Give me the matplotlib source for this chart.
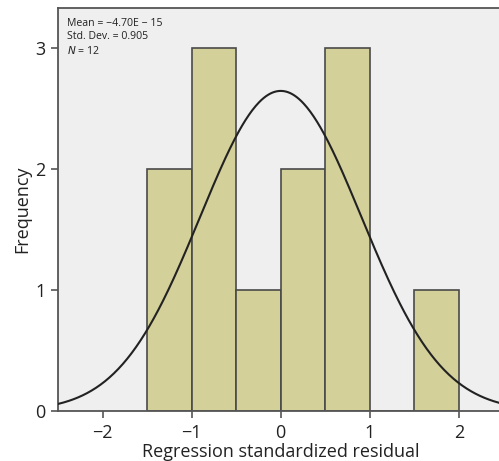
import numpy as np
import matplotlib
matplotlib.use("Agg")
import matplotlib.pyplot as plt

plt.rcParams['font.family'] = ['Open Sans', 'DejaVu Sans']

# histogram bins (regression standardized residual) and counts
bin_edges = [-1.5, -1.0, -0.5, 0.0, 0.5, 1.0, 1.5, 2.0]
counts = [2, 3, 1, 2, 3, 0, 1]

# stats shown in the corner box
mean_val = 0.0          # -4.70E-15
std_dev = 0.905
n_obs = 12

x_ticks = [-2, -1, 0, 1, 2]
y_ticks = [0, 1, 2, 3]

fig = plt.figure(figsize=(4.99, 4.61), dpi=100)
ax = fig.add_axes([58 / 499, 50 / 461, 5 * 89.1 / 499, 403 / 461])
ax.set_facecolor('#efefef')

lefts = np.array(bin_edges[:-1])
widths = np.diff(bin_edges)
ax.bar(lefts, counts, width=widths, align='edge', color='#d3d09a',
       edgecolor='#4a4a4a', linewidth=1.2, zorder=2)

# fitted normal curve scaled to counts
bw = widths[0]
xs = np.linspace(-2.5, 2.5, 400)
ys = n_obs * bw / (std_dev * np.sqrt(2 * np.pi)) * np.exp(-0.5 * ((xs - mean_val) / std_dev) ** 2)
ax.plot(xs, ys, color='#222222', linewidth=1.5, zorder=3)

ax.set_xlim(-2.5, 2.5)
ax.set_ylim(0, 3.33)
ax.set_xticks(x_ticks)
ax.set_xticklabels([str(t).replace('-', '\u2212') for t in x_ticks])
ax.set_yticks(y_ticks)
ax.tick_params(axis='both', labelsize=13, length=5, width=1.2, color='#555555',
               labelcolor='#222222', direction='out', pad=4)

for side in ['left', 'bottom', 'top', 'right']:
    ax.spines[side].set_color('#555555')
    ax.spines[side].set_linewidth(1.3)

ax.set_xlabel('Regression standardized residual', fontsize=13, color='#222222', labelpad=1)
ax.set_ylabel('Frequency', fontsize=13, color='#222222', labelpad=3)

ax.text(0.02, 0.975, 'Mean = \u22124.70E \u2212 15\nStd. Dev. = ' + f'{std_dev:.3f}' + '\n$N$ = ' + str(n_obs),
        transform=ax.transAxes, fontsize=7.6, va='top', ha='left',
        color='#222222', linespacing=1.3)

fig.savefig('out.png', dpi=100)
